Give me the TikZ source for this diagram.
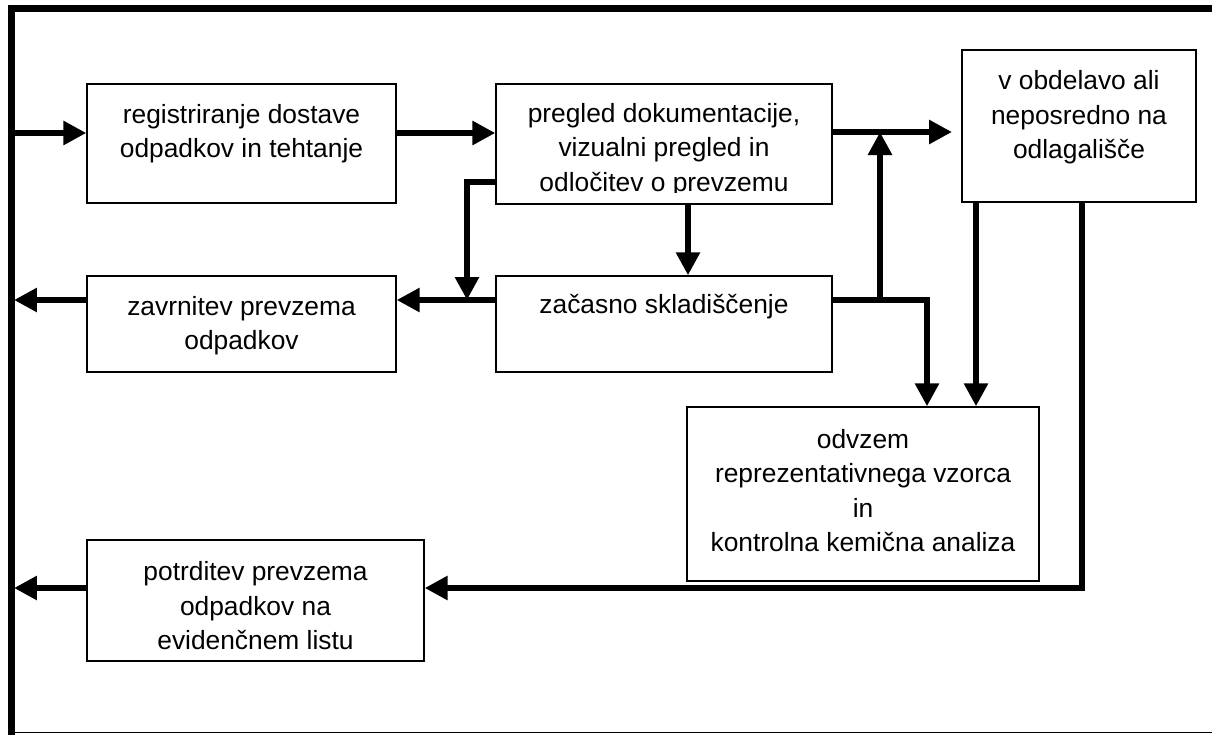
\documentclass[tikz,border=0pt]{standalone}
\usepackage{fontspec}
\setmainfont{Liberation Sans}
\usetikzlibrary{arrows.meta, positioning}

\begin{document}
\begin{tikzpicture}[x=0.02cm, y=-0.02cm,
    box/.style={draw, line width=0.8pt, inner sep=0pt},
    txt/.style={align=center, inner sep=0pt, font=\fontsize{15}{19.6}\selectfont},
    arr/.style={line width=0.13cm, line join=miter, -{Triangle[length=0.46cm, width=0.46cm]}},
    frame/.style={line width=0.13cm, line cap=rect}]
        \useasboundingbox (0,0) rectangle (1212,734);

        % Outer frame
        \draw[frame] (11.5,734) -- (11.5,8.5) -- (1212,8.5);
        \draw[line width=0.6pt] (11.5,732.5) -- (1212,732.5);

        % Boxes
        \node[box, minimum width=6.18cm, minimum height=2.38cm] (reg) at (241.5,143.5) {};
        \node[box, minimum width=6.72cm, minimum height=2.40cm] (preg) at (664,144) {};
        \node[box, minimum width=4.68cm, minimum height=3.04cm] (obd) at (1079,126) {};
        \node[box, minimum width=6.72cm, minimum height=1.92cm] (zac) at (664,324) {};
        \node[box, minimum width=6.18cm, minimum height=1.92cm] (zav) at (241.5,324) {};
        \node[box, minimum width=7.04cm, minimum height=3.48cm] (odv) at (863,494) {};
        \node[box, minimum width=6.74cm, minimum height=2.42cm] (pot) at (255.5,600.5) {};

        % Texts
        \node[txt] (regtxt) at (241.5,133.5) {registriranje dostave\\odpadkov in tehtanje};
        \begin{scope}
          \clip (496,84) rectangle (832,192);
          \node[txt] (pregtxt) at (664,150) {pregled dokumentacije,\\vizualni pregled in\\odločitev o prevzemu};
        \end{scope}
        \node[txt] (obdtxt) at (1079,117.5) {v obdelavo ali\\neposredno na\\odlagališče};
        \node[txt] (zactxt) at (664,307) {začasno skladiščenje};
        \node[txt] (zavtxt) at (241.5,325.5) {zavrnitev prevzema\\odpadkov};
        \node[txt] (odvtxt) at (863,490.5) {odvzem\\reprezentativnega vzorca\\in\\kontrolna kemična analiza};
        \node[txt] (pottxt) at (255.5,606) {potrditev prevzema\\odpadkov na\\evidenčnem listu};

        % Connector points
        \coordinate (in) at (11.5,133);
        \coordinate (toobd) at (952,132);
        \coordinate (row) at (880,300);
        \coordinate (lb) at (467,182);
        \coordinate (dr) at (927,300);
        \coordinate (c1) at (688,240);
        \coordinate (c2) at (976,300);
        \coordinate (c3) at (1082,588);
        \coordinate (out1) at (14,300);
        \coordinate (out2) at (14,588);

        % Main flow
        \draw[arr] (in) -- (in -| reg.west);
        \draw[arr] (in -| reg.east) -- (in -| preg.west);
        \draw[arr] (toobd -| preg.east) -- (toobd);
        \draw[arr] (c1 |- preg.south) -- (c1 |- zac.north);

        % Rejection branch
        \draw[arr] (lb -| preg.west) -- (lb) -- (lb |- row);
        \draw[arr] (row -| zac.west) -- (row -| zav.east);
        \draw[arr] (row -| zav.west) -- (out1);

        % From storage
        \draw[arr] (row -| zac.east) -- (dr) -- (dr |- odv.north);
        \draw[arr] (row) -- (row |- toobd);

        % From treatment / landfill
        \draw[arr] (c2 |- obd.south) -- (c2 |- odv.north);
        \draw[arr] (c3 |- obd.south) -- (c3) -- (c3 -| pot.east);
        \draw[arr] (c3 -| pot.west) -- (out2);

      \end{tikzpicture}
\end{document}
